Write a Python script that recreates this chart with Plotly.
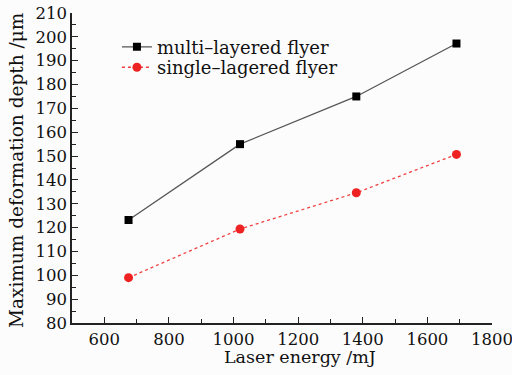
import plotly.graph_objects as go

energy = [675, 1020, 1380, 1690]
multi = [123.2, 155.0, 175.0, 197.2]
single = [99.0, 119.4, 134.6, 150.7]
x_ticks = [600, 800, 1000, 1200, 1400, 1600, 1800]
y_ticks = list(range(80, 211, 10))

font = "DejaVu Serif"
fig = go.Figure()
fig.add_trace(go.Scatter(x=energy, y=multi, mode="lines+markers", name="multi\u2013layered flyer",
                         line=dict(color="#555555", width=1.3), legend="legend", showlegend=True,
                         marker=dict(symbol="square", size=8, color="black")))
fig.add_trace(go.Scatter(x=energy, y=single, mode="lines+markers", name="single\u2013lagered flyer",
                         line=dict(color="#f04040", width=1.3, dash="dot"), legend="legend2", showlegend=True,
                         marker=dict(symbol="circle", size=9, color="#ee2222")))

axcommon = dict(showgrid=False, zeroline=False, showline=True, linecolor="#222", linewidth=1.5,
                ticks="inside", ticklen=6, tickcolor="#222", tickwidth=1.3, automargin=False,
                ticklabeloverflow="allow",
                tickfont=dict(family=font, size=16.5, color="#111"),
                minor=dict(ticks="inside", ticklen=4, tickcolor="#222", tickwidth=1.2))
fig.update_xaxes(range=[500, 1800], tickvals=x_ticks, **axcommon)
fig.update_yaxes(range=[80, 210], tickvals=y_ticks, **axcommon)
fig.update_xaxes(minor_dtick=100)
fig.update_yaxes(minor_dtick=5)
fig.add_annotation(text="Laser energy /mJ", xref="paper", yref="paper", x=0.543, y=-0.1097,
                   xanchor="center", yanchor="middle", showarrow=False,
                   font=dict(family=font, size=17.5, color="#111"))
fig.add_annotation(text="Maximum deformation depth /\u03bcm", xref="paper", yref="paper", x=-0.1333, y=0.4935,
                   xanchor="center", yanchor="middle", showarrow=False, textangle=-90,
                   font=dict(family=font, size=18.5, color="#111"))
legcommon = dict(xanchor="left", yanchor="middle", bgcolor="rgba(0,0,0,0)", visible=True,
                 font=dict(family=font, size=18, color="#111"), itemwidth=30)
fig.update_layout(width=512, height=375, margin=dict(l=72, r=20, t=13, b=52), showlegend=True,
                  plot_bgcolor="#fcfcfc", paper_bgcolor="#fcfcfc",
                  legend=dict(x=0.107, y=0.890, **legcommon),
                  legend2=dict(x=0.107, y=0.824, **legcommon))
div = fig.to_html(full_html=False, include_plotlyjs=True, config={"displayModeBar": False})
with open("out.html", "w", encoding="utf-8") as f:
    f.write('<!DOCTYPE html><html><head><meta charset="utf-8"></head>'
            '<body style="margin:0;padding:0;background:#fcfcfc">' + div + '</body></html>')
